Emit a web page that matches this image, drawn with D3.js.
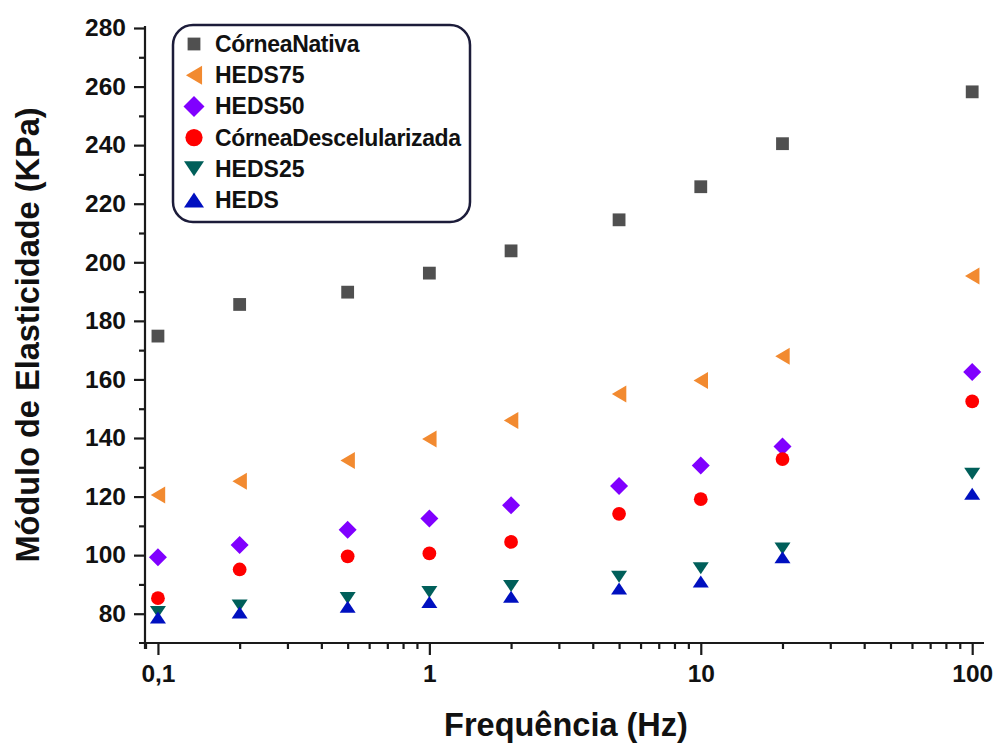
<!DOCTYPE html>
<html><head><meta charset="utf-8">
<script src="https://cdn.jsdelivr.net/npm/d3@7"></script>
<style>body{margin:0;background:#fff}svg{display:block}text{font-family:"Liberation Sans",Arial,sans-serif;font-weight:bold}</style>
</head><body>
<svg id="c" width="997" height="744"></svg>
<script>
const freqs = [0.1, 0.2, 0.5, 1, 2, 5, 10, 20, 100];
const corneaNativa = [174.8, 185.6, 189.8, 196.3, 203.9, 214.5, 225.8, 240.5, 258.2];
const heds75 = [120.5, 125.2, 132.3, 139.7, 146.0, 155.0, 159.6, 167.9, 195.3];
const heds50 = [99.3, 103.5, 108.7, 112.5, 117.0, 123.6, 130.6, 137.1, 162.5];
const corneaDescel = [85.3, 95.1, 99.6, 100.6, 104.5, 114.1, 119.1, 132.8, 152.5];
const heds25 = [80.6, 82.8, 85.4, 87.4, 89.5, 92.6, 95.5, 102.3, 127.8];
const heds = [78.7, 80.4, 82.4, 84.0, 85.8, 88.6, 91.0, 99.3, 121.0];
const seriesNames = ["CórneaNativa", "HEDS75", "HEDS50", "CórneaDescelularizada", "HEDS25", "HEDS"];
const yTicks = [80, 100, 120, 140, 160, 180, 200, 220, 240, 260, 280];
const xTicks = [0.1, 1, 10, 100];
const xTickLabels = ["0,1", "1", "10", "100"];

const series = [
  {name: seriesNames[0], values: corneaNativa, shape: "square", color: "#505050"},
  {name: seriesNames[1], values: heds75, shape: "left", color: "#f28a30"},
  {name: seriesNames[2], values: heds50, shape: "diamond", color: "#8000ff"},
  {name: seriesNames[3], values: corneaDescel, shape: "circle", color: "#ff0000"},
  {name: seriesNames[4], values: heds25, shape: "down", color: "#005f5a"},
  {name: seriesNames[5], values: heds, shape: "up", color: "#0010c0"}
];

function shapePath(shape, s) {
  const h = s / 2;
  switch (shape) {
    case "square": { const a = s * 0.4; return `M${-a},${-a}H${a}V${a}H${-a}Z`; }
    case "left": return `M${-h*0.85},0L${h*0.85},${-h}L${h*0.85},${h}Z`;
    case "diamond": return `M0,${-h}L${h},0L0,${h}L${-h},0Z`;
    case "circle": { const r = s * 0.43; return `M${r},0A${r},${r} 0 1,1 ${-r},0A${r},${r} 0 1,1 ${r},0Z`; }
    case "down": return `M${-h},${-h*0.75}L${h},${-h*0.75}L0,${h*0.75}Z`;
    case "up": return `M${-h},${h*0.75}L${h},${h*0.75}L0,${-h*0.75}Z`;
  }
}

const svg = d3.select("#c");
const x = d3.scaleLog().domain([0.0896, 109.6]).range([145, 983]);
const y = d3.scaleLinear().domain([70, 280]).range([643, 28]);
const axisColor = "#1a1a1a";

// Y axis
const yAxis = svg.append("g").attr("transform", "translate(145,0)");
yAxis.call(d3.axisLeft(y).tickValues(yTicks).tickSize(11).tickPadding(8).tickFormat(d3.format("d")));
const yMinor = svg.append("g").attr("transform", "translate(145,0)");
yMinor.call(d3.axisLeft(y).tickValues(d3.range(90, 280, 20)).tickSize(6).tickFormat(""));
yMinor.select(".domain").remove();
yAxis.select(".domain").attr("d", "M0,26V649");

// X axis
const xAxis = svg.append("g").attr("transform", "translate(0,643)");
xAxis.call(d3.axisBottom(x).tickValues(xTicks).tickSize(12).tickPadding(10).tickFormat((d, i) => xTickLabels[i]));
xAxis.select(".domain").attr("d", "M139,0H984");
const minorX = [];
[0.01, 0.1, 1, 10].forEach(b => { for (let k = 2; k <= 9; k++) { const v = b * k; if (v >= 0.089 && v <= 109) minorX.push(v); } });
const xMinor = svg.append("g").attr("transform", "translate(0,643)");
xMinor.call(d3.axisBottom(x).tickValues(minorX).tickSize(6).tickFormat(""));
xMinor.select(".domain").remove();

svg.selectAll(".domain, .tick line").attr("stroke", axisColor).attr("stroke-width", 2.2);
svg.selectAll(".tick text").attr("font-size", 24.5).attr("fill", "#111").attr("font-family", '"Liberation Sans", Arial, sans-serif').attr("font-weight", "bold");

// Axis titles
svg.append("text").attr("x", 566).attr("y", 736).attr("text-anchor", "middle").attr("font-size", 32.5).attr("fill", "#111").text("Frequência (Hz)");
svg.append("text").attr("transform", "translate(39,335) rotate(-90)").attr("text-anchor", "middle").attr("font-size", 32.5).attr("fill", "#111").text("Módulo de Elasticidade (KPa)");

// Points
const sizes = {square: 16, left: 17, diamond: 18, circle: 16, down: 16, up: 16};
series.forEach(s => {
  svg.append("g").selectAll("path").data(s.values).join("path")
    .attr("d", shapePath(s.shape, sizes[s.shape]))
    .attr("transform", (v, i) => `translate(${x(freqs[i])},${y(v)})`)
    .attr("fill", s.color);
});

// Legend
const lg = svg.append("g");
lg.append("rect").attr("x", 173).attr("y", 25).attr("width", 297).attr("height", 197).attr("rx", 20).attr("ry", 20)
  .attr("fill", "#fff").attr("stroke", "#1c1c3a").attr("stroke-width", 2.5);
const legendSizes = {square: 16, left: 19, diamond: 21, circle: 20, down: 20, up: 20};
series.forEach((s, i) => {
  const cy = 44 + i * 31.2;
  lg.append("path").attr("d", shapePath(s.shape, legendSizes[s.shape])).attr("transform", `translate(194,${cy})`).attr("fill", s.color);
  lg.append("text").attr("x", 215).attr("y", cy + 8).attr("font-size", 23).attr("fill", "#111")
    .attr("letter-spacing", s.name.startsWith("C") ? -0.35 : 0).text(s.name);
});
</script>
</body></html>
